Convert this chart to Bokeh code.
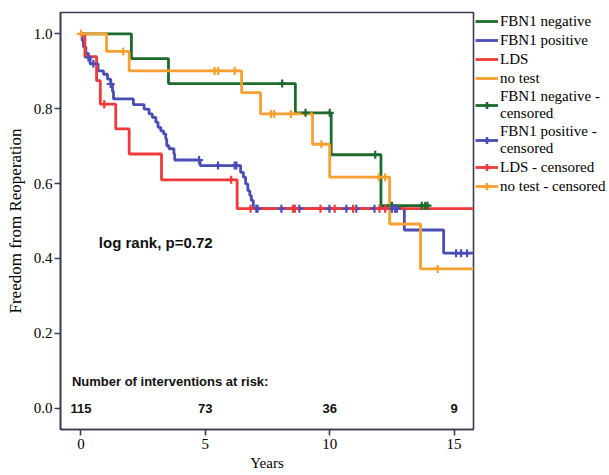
import numpy as np
from bokeh.plotting import figure
from bokeh.layouts import row
from bokeh.models import (Range1d, Legend, LegendItem, Label, ColumnDataSource,
                          FixedTicker, CustomJSTickFormatter)
from bokeh.embed import file_html
from bokeh.resources import INLINE
from bokeh.core.properties import value

# ---------------- data ----------------
group_names = ["FBN1 negative", "FBN1 positive", "LDS", "no test"]
group_colors = ["#1d6a2e", "#4a4db5", "#f0393a", "#f7a030"]

neg_times = [0.0, 2.03, 3.52, 8.62, 10.06, 12.06, 13.95]
neg_surv = [1.0, 0.934, 0.867, 0.789, 0.677, 0.541, 0.541]
neg_censor = [8.09, 9.03, 10.0, 11.83, 12.5, 13.7, 13.84, 13.93]

pos_times = [0.0, 0.05, 0.1, 0.2, 0.3, 0.37, 0.69, 0.91, 1.07, 1.2, 1.27, 1.31,
             2.11, 2.54, 2.74, 2.87, 3.01, 3.10, 3.21, 3.32, 3.41, 3.45, 3.54,
             3.74, 3.77, 4.79, 6.42, 6.53, 6.62, 6.71, 6.79, 6.85, 6.93, 13.0,
             14.58, 16.5]
pos_surv = [1.0, 0.982, 0.965, 0.948, 0.937, 0.92, 0.901, 0.892, 0.879, 0.866,
            0.846, 0.826, 0.811, 0.799, 0.786, 0.777, 0.764, 0.750, 0.741,
            0.733, 0.719, 0.701, 0.693, 0.679, 0.663, 0.648, 0.630, 0.617,
            0.599, 0.581, 0.568, 0.555, 0.533, 0.476, 0.414, 0.414]
pos_censor = [0.3, 0.5, 1.2, 4.75, 5.51, 6.18, 6.25, 7.05, 7.1, 8.06, 8.78,
              9.99, 10.67, 11.07, 11.8, 12.5, 12.63, 12.7, 15.08, 15.28, 15.52]

lds_times = [0.0, 0.16, 0.63, 0.78, 1.40, 1.94, 3.24, 6.28, 16.5]
lds_surv = [1.0, 0.939, 0.875, 0.812, 0.746, 0.679, 0.61, 0.533, 0.533]
lds_censor = [0.94, 6.04, 6.82, 8.52, 8.6, 9.63, 10.2, 10.94, 12.0, 12.23]

nt_times = [0.0, 1.03, 1.94, 6.46, 7.22, 9.31, 10.0, 12.41, 13.65, 16.5]
nt_surv = [1.0, 0.953, 0.901, 0.843, 0.786, 0.705, 0.617, 0.492, 0.372, 0.372]
nt_censor = [0.0, 1.7, 5.37, 5.52, 6.18, 7.64, 7.77, 8.44, 9.67, 11.97, 12.23, 14.34]

risk_times = [0, 5, 10, 15]
risk_counts = ["115", "73", "36", "9"]

x_ticks = [0, 5, 10, 15]
y_ticks = [0.0, 0.2, 0.4, 0.6, 0.8, 1.0]

legend_labels = group_names + ["FBN1 negative -\ncensored",
                               "FBN1 positive -\ncensored",
                               "LDS - censored", "no test - censored"]

# ---------------- main figure ----------------
frame_col = "#3b3a55"
p = figure(width=475, height=475, output_backend="svg", toolbar_location=None,
           x_range=Range1d(-0.82, 15.78), y_range=Range1d(-0.057, 1.057),
           min_border_left=60, min_border_right=2, min_border_top=12,
           min_border_bottom=46)
p.xgrid.visible = False
p.ygrid.visible = False
p.outline_line_color = frame_col
p.outline_line_width = 1.6
p.background_fill_color = "white"
p.border_fill_color = "white"

for ax in (p.xaxis[0], p.yaxis[0]):
    ax.axis_line_color = frame_col
    ax.axis_line_width = 1.6
    ax.major_tick_line_color = frame_col
    ax.major_tick_line_width = 1.6
    ax.major_tick_out = 6
    ax.major_tick_in = 0
    ax.minor_tick_line_color = None
    ax.major_label_text_font = "Liberation Serif"
    ax.major_label_text_font_size = "15px"
    ax.major_label_text_color = "black"
    ax.axis_label_text_font = "Liberation Serif"
    ax.axis_label_text_font_style = "normal"
    ax.axis_label_text_color = "black"

p.xaxis.ticker = FixedTicker(ticks=x_ticks)
p.yaxis.ticker = FixedTicker(ticks=y_ticks)
p.yaxis.formatter = CustomJSTickFormatter(code="return tick.toFixed(1);")
p.xaxis.axis_label = "Years"
p.xaxis.axis_label_text_font_size = "15px"
p.xaxis.major_label_standoff = 3
p.xaxis.axis_label_standoff = 3
p.yaxis.axis_label = "Freedom from Reoperation"
p.yaxis.axis_label_text_font_size = "17px"
p.yaxis.major_label_standoff = 2
p.yaxis.axis_label_standoff = 6


def censor_y(times, surv, cens):
    t = np.asarray(times)
    s = np.asarray(surv)
    idx = np.searchsorted(t, np.asarray(cens), side="right") - 1
    return s[idx]


series = [
    (neg_times, neg_surv, neg_censor),
    (pos_times, pos_surv, pos_censor),
    (lds_times, lds_surv, lds_censor),
    (nt_times, nt_surv, nt_censor),
]

for (t, s, c), col in zip(series, group_colors):
    p.step(x=t, y=s, mode="after", line_color=col, line_width=2.8)

for (t, s, c), col in zip(series, group_colors):
    src = ColumnDataSource(dict(x=c, y=censor_y(t, s, c)))
    p.scatter("x", "y", source=src, marker="cross", size=8, line_color=col,
              line_width=2.2)

p.add_layout(Label(x=0.72, y=0.442, text="log rank, p=0.72",
                   text_font="Liberation Sans", text_font_style="bold",
                   text_font_size="15px", text_baseline="middle",
                   text_color="#111111"))
p.add_layout(Label(x=-0.36, y=0.07, text="Number of interventions at risk:",
                   text_font="Liberation Sans", text_font_style="bold",
                   text_font_size="13px", text_baseline="middle",
                   text_color="#111111"))
risk_src = ColumnDataSource(dict(x=risk_times, y=[0.0] * len(risk_times),
                                 t=risk_counts))
p.text(x="x", y="y", text="t", source=risk_src, text_align="center",
       text_baseline="middle", text_font=value("Liberation Sans"),
       text_font_style="bold", text_font_size="13px", text_color="#111111")

# ---------------- legend panel ----------------
lf = figure(width=134, height=475, output_backend="svg", toolbar_location=None,
            x_range=Range1d(0, 1), y_range=Range1d(0, 1),
            min_border_left=0, min_border_right=0, min_border_top=2,
            min_border_bottom=0)
lf.axis.visible = False
lf.xgrid.visible = False
lf.ygrid.visible = False
lf.outline_line_color = None
lf.background_fill_color = "white"
lf.border_fill_color = "white"

nanv = [np.nan, np.nan]
items = []
for name, col in zip(legend_labels[:4], group_colors):
    r = lf.line(x=nanv, y=nanv, line_color=col, line_width=2.8)
    items.append(LegendItem(label=name, renderers=[r]))
for name, col in zip(legend_labels[4:], group_colors):
    d = lf.line(x=nanv, y=nanv, line_color=col, line_width=2.8)
    c = lf.scatter(x=nanv, y=nanv, marker="cross", size=12, line_color=col,
                   line_width=2.6)
    items.append(LegendItem(label=name, renderers=[d, c]))

legend = Legend(items=items, location="top_left", margin=0, padding=0,
                spacing=1, glyph_width=23, glyph_height=18, label_standoff=2,
                label_text_font="Liberation Serif", label_text_font_size="15px",
                label_text_line_height=0.93, label_height=18,
                label_text_color="black",
                border_line_color=None, background_fill_alpha=0.0)
lf.add_layout(legend, "center")

layout = row(p, lf, spacing=0)
open("out.html", "w").write(file_html(layout, INLINE))
